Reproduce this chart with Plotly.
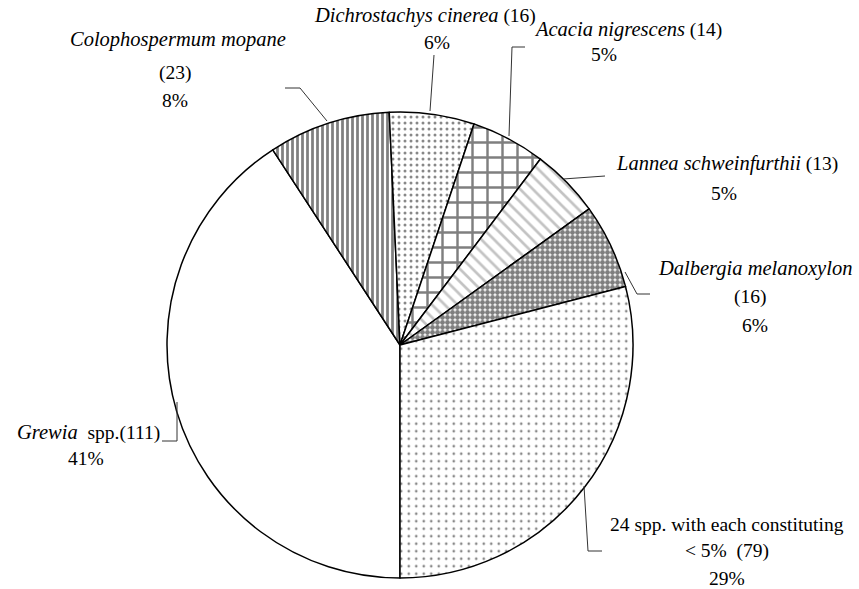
"""Browse species composition pie — patterned slices, outside labels."""

import plotly.graph_objects as go

W, H = 859, 589

species = [
    "Grewia spp.",
    "Colophospermum mopane",
    "Dichrostachys cinerea",
    "Acacia nigrescens",
    "Lannea schweinfurthii",
    "Dalbergia melanoxylon",
    "24 spp. with each constituting < 5%",
]
counts = [111, 23, 16, 14, 13, 16, 79]
percents = ["41%", "8%", "6%", "5%", "5%", "6%", "29%"]

# per-slice fill patterns (black & white print style)
pat_shape = ["", "|", ".", "+", "\\", ".", "."]
pat_size = [8, 5, 6, 15, 9, 5, 7.5]
pat_solid = [0.1, 0.55, 0.2, 0.3, 0.3, 0.75, 0.1]
pat_fg = ["black", "black", "#111", "black", "#888", "black", "#111"]

FONT = "'Liberation Serif', 'Times New Roman', Times, serif"


def px(x):
    return x / W


def py(y):
    return 1 - y / H


def it(s):
    return f"<span style='font-size:20.5px'><i>{s}</i></span>"


# pie: centre (400, 345), radius ~233 px
cx, cy, r = 400, 345, 233

fig = go.Figure(
    go.Pie(
        labels=species,
        values=counts,
        sort=False,
        direction="clockwise",
        rotation=180,
        textinfo="none",
        showlegend=False,
        domain=dict(x=[px(cx - r), px(cx + r)], y=[py(cy + r), py(cy - r)]),
        marker=dict(
            colors=["white"] * len(counts),
            line=dict(color="black", width=1.5),
            pattern=dict(
                shape=pat_shape,
                size=pat_size,
                solidity=pat_solid,
                fgcolor=pat_fg,
                bgcolor="white",
                fillmode="overlay",
            ),
        ),
        hovertemplate="%{label}<br>%{value} (%{percent})<extra></extra>",
    )
)

# label lines: (text, x px, y px)
label_lines = [
    (it("Colophospermum mopane"), 178, 40),
    (f"({counts[1]})", 175, 73),
    (percents[1], 175, 100),
    (it("Dichrostachys cinerea") + f" ({counts[2]})", 425, 15),
    (percents[2], 437, 42),
    (it("Acacia nigrescens") + f" ({counts[3]})", 628, 29),
    (percents[3], 604, 55),
    (it("Lannea schweinfurthii") + f" ({counts[4]})", 727, 163),
    (percents[4], 724, 193),
    (it("Dalbergia melanoxylon"), 755, 268),
    (f"({counts[5]})", 750, 297),
    (percents[5], 755, 325),
    (it("Grewia") + f"  spp.({counts[0]})", 88, 432),
    (percents[0], 86, 458),
    ("24 spp. with each constituting", 727, 524),
    (f"&lt; 5%  ({counts[6]})", 727, 551),
    (percents[6], 727, 578),
]

for text, x, y in label_lines:
    fig.add_annotation(
        text=text,
        x=px(x),
        y=py(y),
        xref="paper",
        yref="paper",
        xanchor="center",
        yanchor="middle",
        showarrow=False,
        font=dict(family=FONT, size=19.5, color="black"),
    )

# leader lines, pixel polylines
leaders = [
    [(285, 88), (300, 88), (327, 121)],
    [(434, 55), (430, 111)],
    [(525, 47), (512, 47), (509, 136)],
    [(563, 179), (605, 176)],
    [(625, 272), (637, 294), (650, 294)],
    [(584, 486), (588, 551), (602, 551)],
    [(162, 441), (177, 441), (177, 402)],
]
for pts in leaders:
    path = "M " + " L ".join(f"{px(x)},{py(y)}" for x, y in pts)
    fig.add_shape(
        type="path",
        path=path,
        xref="paper",
        yref="paper",
        line=dict(color="#333", width=1),
    )

fig.update_layout(
    width=W,
    height=H,
    margin=dict(l=0, r=0, t=0, b=0),
    paper_bgcolor="white",
    plot_bgcolor="white",
    font=dict(family=FONT),
)

# drop the default body margin so the figure sits flush in the window
fig.write_html(
    "out.html",
    config={"displayModeBar": False},
    post_script="document.body.style.margin='0';",
)
